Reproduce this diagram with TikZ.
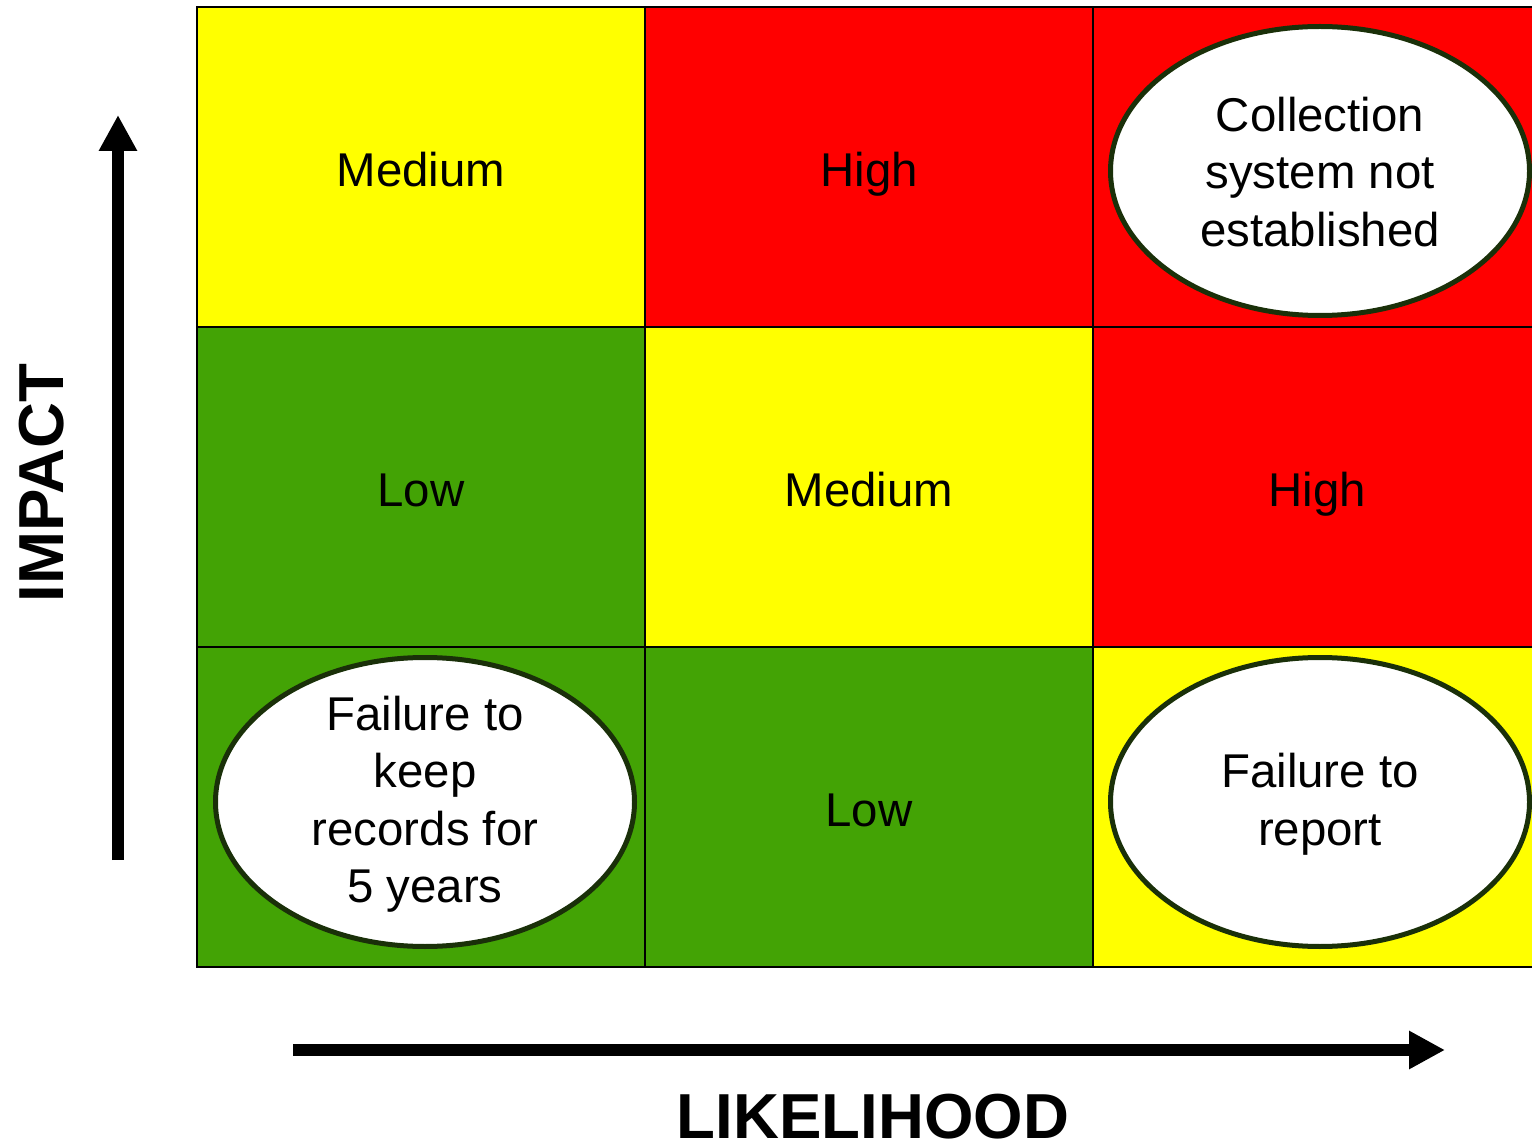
\documentclass[tikz,border=0pt]{standalone}
\usepackage{fontspec}
\setmainfont{Liberation Sans}
\usetikzlibrary{shapes.geometric,arrows.meta}
\definecolor{cyel}{HTML}{FFFF00}
\definecolor{cred}{HTML}{FF0000}
\definecolor{cgrn}{HTML}{43A305}
\definecolor{cedge}{HTML}{1A3009}
\tikzset{
  cell/.style={draw=black, line width=1pt, minimum width=224pt, minimum height=160pt, inner sep=0pt,
    text height=19.5pt, text depth=0pt, font=\fontsize{23.7}{28.75}\selectfont},
  oval/.style={ellipse, draw=cedge, fill=white, line width=2.5pt, minimum width=209.5pt, minimum height=144.5pt,
    inner sep=0pt},
  ovaltext/.style={inner sep=0pt, align=center, font=\fontsize{23.7}{28.75}\selectfont},
  axislabel/.style={font=\fontsize{31.8}{38}\selectfont\bfseries, inner sep=0pt},
  bigarrow/.style={line width=6pt, -{Triangle[length=18pt,width=18pt]}}
}
\begin{document}
\begin{tikzpicture}[x=0.5pt,y=-0.5pt]
\useasboundingbox (0,0) rectangle (1532,1144);
% grid cells
\node[cell, fill=cyel] (c11) at (421,167) {Medium};
\node[cell, fill=cred] (c12) at (869,167) {High};
\node[cell, fill=cred] (c13) at (1317,167) {};
\node[cell, fill=cgrn] (c21) at (421,487) {Low};
\node[cell, fill=cyel] (c22) at (869,487) {Medium};
\node[cell, fill=cred] (c23) at (1317,487) {High};
\node[cell, fill=cgrn] (c31) at (421,807) {};
\node[cell, fill=cgrn] (c32) at (869,807) {Low};
\node[cell, fill=cyel] (c33) at (1317,807) {};
% ellipses
\node[oval] (e1) at (1320,171) {};
\node[ovaltext] (t1) at (1320,172) {Collection\\system not\\established};
\node[oval] (e2) at (425,802) {};
\node[ovaltext] (t2) at (425,804) {Failure to\\keep\\records for\\5 years};
\node[oval] (e3) at (1320,802) {};
\node[ovaltext] (t3) at (1320,804) {Failure to\\report};
% axes
\coordinate (vb) at (118,860);
\coordinate (vt) at (118,115);
\draw[bigarrow] (vb) -- (vt);
\coordinate (hl) at (293,1050);
\coordinate (hr) at (1445,1050);
\draw[bigarrow] (hl) -- (hr);
\node[axislabel, rotate=90] (imp) at (42,483) {IMPACT};
\node[axislabel, anchor=base, text depth=0pt] (lik) at (873,1138) {LIKELIHOOD};
\end{tikzpicture}
\end{document}
